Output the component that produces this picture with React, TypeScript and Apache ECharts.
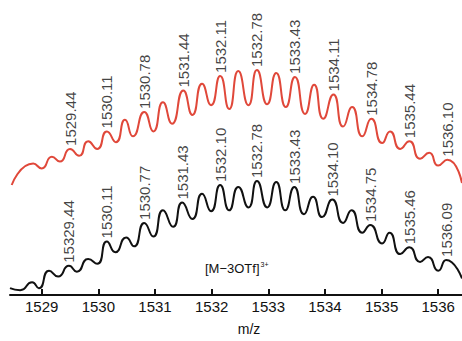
import React, { useEffect, useRef } from "react";
import * as echarts from "echarts";

// m/z axis ticks
const tickValues = [1529, 1530, 1531, 1532, 1533, 1534, 1535, 1536];

// Simulated (red) profile: m/z and intensity (arbitrary units), peaks and valleys
const redMz = [
  1528.47, 1528.85, 1529.0, 1529.18, 1529.32, 1529.5, 1529.66, 1529.82, 1529.98, 1530.15,
  1530.31, 1530.47, 1530.61, 1530.81, 1530.97, 1531.14, 1531.3, 1531.5, 1531.66, 1531.83,
  1531.99, 1532.15, 1532.31, 1532.47, 1532.65, 1532.8, 1532.98, 1533.14, 1533.31, 1533.47,
  1533.65, 1533.81, 1533.97, 1534.15, 1534.32, 1534.48, 1534.66, 1534.82, 1535.01, 1535.15,
  1535.33, 1535.49, 1535.68, 1535.84, 1536.0, 1536.16, 1536.42,
];
const redI = [
  113, 135, 130, 142, 137, 150, 143, 158, 150, 168,
  157, 180, 163, 188, 168, 198, 176, 210, 185, 217,
  195, 225, 191, 230, 195, 231, 196, 228, 193, 224,
  186, 216, 181, 206, 173, 193, 163, 181, 156, 168,
  150, 158, 140, 146, 133, 139, 115,
];

// Experimental (black) profile
const blackMz = [
  1528.44, 1528.62, 1528.83, 1528.95, 1529.13, 1529.29, 1529.48, 1529.62, 1529.82, 1529.98,
  1530.15, 1530.3, 1530.49, 1530.63, 1530.81, 1530.97, 1531.14, 1531.32, 1531.48, 1531.66,
  1531.83, 1531.99, 1532.15, 1532.31, 1532.47, 1532.65, 1532.8, 1532.98, 1533.14, 1533.3,
  1533.46, 1533.63, 1533.79, 1533.95, 1534.13, 1534.32, 1534.47, 1534.66, 1534.8, 1535.01,
  1535.14, 1535.33, 1535.49, 1535.68, 1535.82, 1536.0, 1536.14, 1536.42,
];
const blackI = [
  7, 5, 13, 7, 25, 19, 30, 24, 37, 32,
  55, 44, 59, 50, 74, 60, 87, 70, 95, 78,
  104, 86, 113, 87, 111, 90, 117, 90, 116, 87,
  111, 83, 101, 80, 98, 74, 87, 64, 72, 53,
  64, 42, 49, 34, 39, 25, 36, 17,
];

// Peak annotations
const redLabelText = [
  "1529.44", "1530.11", "1530.78", "1531.44", "1532.11", "1532.78",
  "1533.43", "1534.11", "1534.78", "1535.44", "1536.10",
];
const redLabelMz = [
  1529.5, 1530.15, 1530.81, 1531.5, 1532.15, 1532.8,
  1533.47, 1534.15, 1534.82, 1535.49, 1536.16,
];
const blackLabelText = [
  "15329.44", "1530.11", "1530.77", "1531.43", "1532.10", "1532.78",
  "1533.43", "1534.10", "1534.75", "1535.46", "1536.09",
];
const blackLabelMz = [
  1529.48, 1530.15, 1530.81, 1531.48, 1532.15, 1532.8,
  1533.46, 1534.13, 1534.8, 1535.49, 1536.14,
];

const RED = "#e0483a";
const BLACK = "#111111";
const FONT = "Liberation Sans, Arial, sans-serif";

function lookup(mz: number[], inten: number[], m: number) {
  let best = 0;
  for (let i = 1; i < mz.length; i++) {
    if (Math.abs(mz[i] - m) < Math.abs(mz[best] - m)) best = i;
  }
  return inten[best];
}

function labelSeries(texts: string[], mzs: number[], mz: number[], inten: number[], color: string, fontSize: number) {
  return {
    type: "scatter",
    symbolSize: 0,
    silent: true,
    z: 5,
    data: mzs.map((m, i) => ({ name: texts[i], value: [m, lookup(mz, inten, m)] })),
    label: {
      show: true,
      position: "top",
      distance: 3,
      rotate: 90,
      align: "left",
      verticalAlign: "middle",
      formatter: "{b}",
      color,
      fontSize,
      fontFamily: FONT,
    },
  };
}

export default function App() {
  const ref = useRef<HTMLDivElement>(null);
  useEffect(() => {
    if (!ref.current) return;
    const chart = echarts.init(ref.current, null, { renderer: "svg" });
    chart.setOption({
      animation: false,
      backgroundColor: "#ffffff",
      grid: { left: 10, right: 0, top: 0, bottom: 38 },
      xAxis: {
        type: "value",
        min: 1528.44,
        max: 1536.42,
        name: "m/z",
        nameLocation: "middle",
        nameGap: 27,
        nameTextStyle: { fontSize: 14, color: "#111", fontFamily: FONT, padding: [0, 0, 0, 26] },
        axisLine: { show: true, onZero: false, lineStyle: { color: "#111", width: 2 } },
        axisTick: { show: true, inside: true, length: 6, customValues: tickValues, lineStyle: { color: "#111", width: 2 } },
        axisLabel: {
          customValues: tickValues,
          formatter: (v: number) => String(v),
          fontSize: 15,
          color: "#111",
          fontFamily: FONT,
          margin: 4,
        },
        splitLine: { show: false },
      },
      yAxis: { type: "value", min: 0, max: 303, show: false },
      series: [
        {
          type: "line",
          data: redMz.map((m, i) => [m, redI[i]]),
          smooth: 0.6,
          showSymbol: false,
          lineStyle: { color: RED, width: 2 },
        },
        {
          type: "line",
          data: blackMz.map((m, i) => [m, blackI[i]]),
          smooth: 0.6,
          showSymbol: false,
          lineStyle: { color: BLACK, width: 2 },
        },
        labelSeries(redLabelText, redLabelMz, redMz, redI, "#111", 15),
        labelSeries(blackLabelText, blackLabelMz, blackMz, blackI, "#111", 15),
      ],
      graphic: [
        {
          type: "text",
          left: 205,
          top: 261,
          style: {
            text: "[M\u22123OTf]{s|3+}",
            fill: "#111",
            font: `13px ${FONT}`,
            rich: { s: { fontSize: 7, verticalAlign: "top", padding: [0, 0, 8, 1], fill: "#111" } },
          },
        },
      ],
    });
    return () => chart.dispose();
  }, []);
  return <div ref={ref} style={{ position: "fixed", left: 0, top: 0, width: 462, height: 341 }} />;
}
